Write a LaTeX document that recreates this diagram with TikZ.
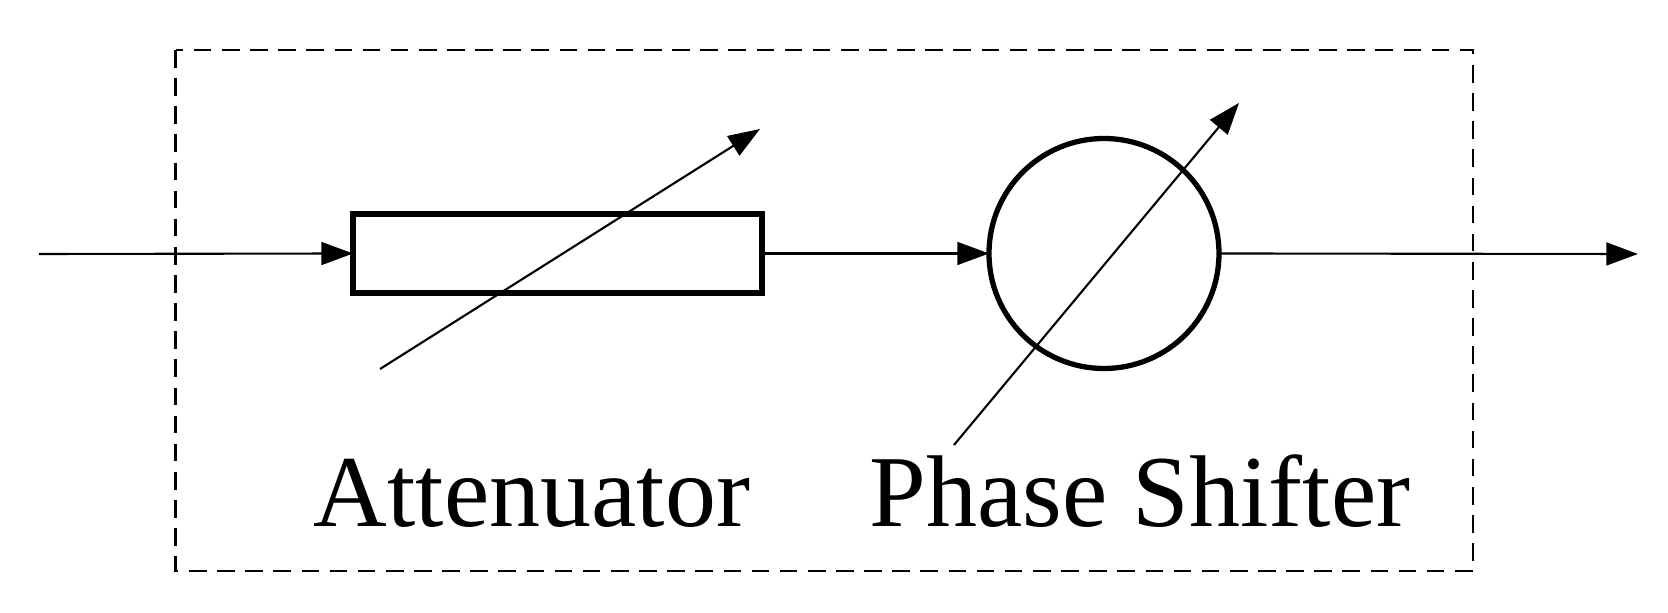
\documentclass[tikz,border=0pt]{standalone}
\usepackage{fontspec}
\setmainfont{Liberation Serif}
\usetikzlibrary{arrows.meta}
\begin{document}
\begin{tikzpicture}[x=0.01cm,y=-0.01cm,
  thin line/.style={line width=0.6pt},
  blk/.style={line width=1.5pt,draw},
  arr/.style={-{Triangle[length=9pt,width=6.5pt]}},
  lbl/.style={font=\fontsize{29}{34}\selectfont,anchor=base}]
\useasboundingbox (0,0) rectangle (1668,613);
\draw[thin line,dash pattern=on 5pt off 3pt] (175.5,50) rectangle (1473,571);
\coordinate (in) at (39,254);
\coordinate (out) at (1638,254);
\node[blk,minimum width=409*0.01cm,minimum height=79*0.01cm,inner sep=0,outer sep=0] (att) at (557.5,253.5) {};
\node[blk,circle,minimum size=230*0.01cm,inner sep=0,outer sep=0] (ps) at (1104,253.5) {};
\draw[thin line,arr] (in) -- (att.west);
\draw[thin line,arr] (att.east) -- (ps.west);
\draw[thin line,arr] (ps.east) -- (out);
\coordinate (a1) at (380,369); \coordinate (a2) at (760,129);
\coordinate (p1) at (954,445); \coordinate (p2) at (1239,103);
\draw[thin line,arr] (a1) -- (a2);
\draw[thin line,arr] (p1) -- (p2);
\node[lbl] (ta) at (532,527) {Attenuator};
\node[lbl] (tp) at (1140,527) {Phase Shifter};
\end{tikzpicture}
\end{document}
